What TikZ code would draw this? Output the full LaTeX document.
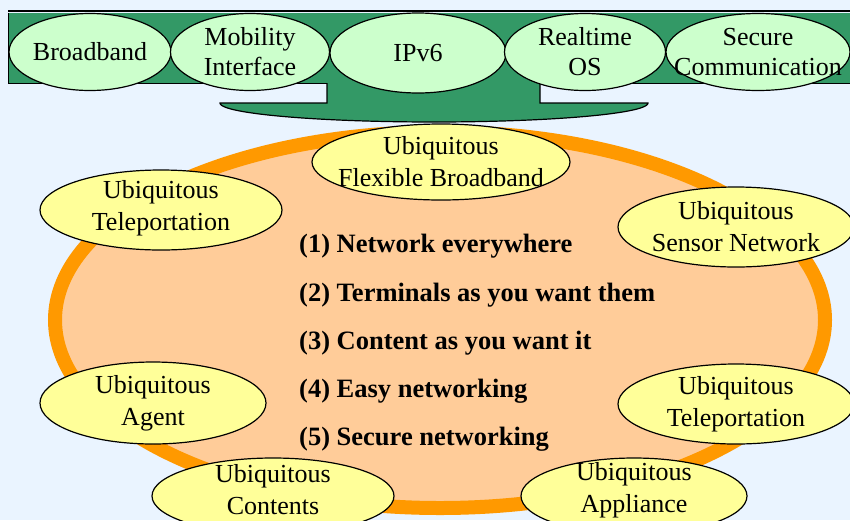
\documentclass[tikz,border=0pt]{standalone}
\usepackage{fontspec}
\setmainfont{Liberation Serif}
\usetikzlibrary{shapes.geometric}
\definecolor{bgblue}{HTML}{EAF4FF}
\definecolor{bandgreen}{HTML}{339966}
\definecolor{lightgreen}{HTML}{CCFFCC}
\definecolor{paleyellow}{HTML}{FFFF99}
\definecolor{peach}{HTML}{FFCC99}
\definecolor{ringorange}{HTML}{FF9900}
\begin{document}
\begin{tikzpicture}[x=1pt,y=-1pt,
  topell/.style={ellipse, draw=black, line width=1.2pt, fill=lightgreen, inner sep=0pt},
  ubiell/.style={ellipse, draw=black, line width=1.2pt, fill=paleyellow, inner sep=0pt},
  toptext/.style={inner sep=0pt, align=center, font=\fontsize{26}{30}\selectfont},
  ubitext/.style={inner sep=0pt, align=center, font=\fontsize{26}{32}\selectfont},
  itemtext/.style={anchor=base west, inner sep=0pt, font=\fontsize{26.5}{32}\selectfont\bfseries}]
\fill[bgblue] (0,0) rectangle (850,520);
\useasboundingbox (0,0) rectangle (850,520);
% top bar
\draw[line width=2.2pt] (8,11) -- (850,11);
\fill[bandgreen] (8,13) rectangle (850,83);
\draw[line width=1pt] (850,83) -- (8,83) -- (8,13);
% funnel
\filldraw[fill=bandgreen, draw=black, line width=1.2pt]
  (327,83) -- (327,103) -- (220,103)
  -- plot[domain=180:360, samples=90] ({434+214*cos(\x)},{103-19*sin(\x)})
  -- (540,103) -- (540,83);
% top ellipses
\node[topell, minimum width=162pt, minimum height=77pt] (bb) at (90,52) {};
\node[topell, minimum width=159pt, minimum height=77pt] (mob) at (250,52) {};
\node[topell, minimum width=176pt, minimum height=80pt] (ip) at (418,53) {};
\node[topell, minimum width=161pt, minimum height=77pt] (rt) at (585,52) {};
\node[topell, minimum width=184pt, minimum height=77pt] (sec) at (758,52) {};
\node[toptext] (bbt) at (bb.center) {Broadband};
\node[toptext] (mobt) at (mob.center) {Mobility\\Interface};
\node[toptext] (ipt) at (ip.center) {IPv6};
\node[toptext] (rtt) at (rt.center) {Realtime\\OS};
\node[toptext] (sect) at (sec.center) {Secure\\Communication};
% ring
\draw[draw=ringorange, fill=peach, line width=14pt] (440,320) ellipse [x radius=385, y radius=188];
% ubiquitous ellipses
\node[ubiell, minimum width=258pt, minimum height=76pt] (fb) at (441,162) {};
\node[ubiell, minimum width=242pt, minimum height=80pt] (tp1) at (161,210) {};
\node[ubiell, minimum width=236pt, minimum height=80pt] (sn) at (736,227) {};
\node[ubiell, minimum width=226pt, minimum height=82pt] (ag) at (153,403) {};
\node[ubiell, minimum width=236pt, minimum height=80pt] (tp2) at (736,404) {};
\node[ubiell, minimum width=242pt, minimum height=76pt] (ct) at (273,496) {};
\node[ubiell, minimum width=226pt, minimum height=76pt] (ap) at (634,496) {};
\node[ubitext] (fbt) at (fb.center) {Ubiquitous\\Flexible Broadband};
\node[ubitext] (tp1t) at (161,208) {Ubiquitous\\Teleportation};
\node[ubitext] (snt) at (sn.center) {Ubiquitous\\Sensor Network};
\node[ubitext] (agt) at (ag.center) {Ubiquitous\\Agent};
\node[ubitext] (tp2t) at (tp2.center) {Ubiquitous\\Teleportation};
\node[ubitext] (ctt) at (273,490) {Ubiquitous\\Contents};
\node[ubitext] (apt) at (634,490) {Ubiquitous\\Appliance};
% list
\node[itemtext] (l1) at (299,252) {(1) Network everywhere};
\node[itemtext] (l2) at (299,301) {(2) Terminals as you want them};
\node[itemtext] (l3) at (299,349) {(3) Content as you want it};
\node[itemtext] (l4) at (299,397) {(4) Easy networking};
\node[itemtext] (l5) at (299,445) {(5) Secure networking};
\end{tikzpicture}
\end{document}
